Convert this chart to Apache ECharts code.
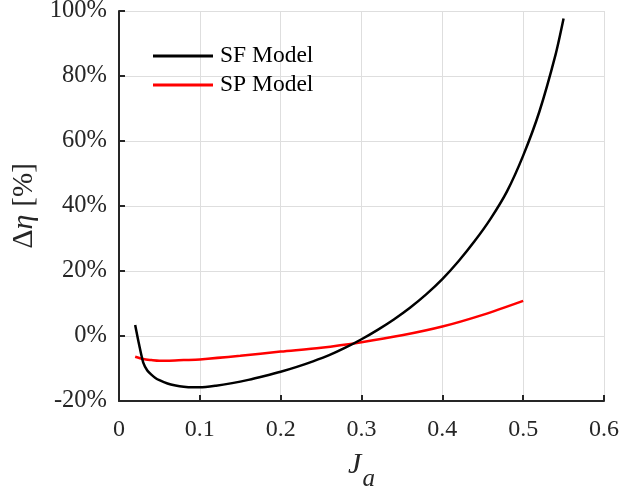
<!DOCTYPE html>
<html><head><meta charset="utf-8">
<script src="https://cdn.jsdelivr.net/npm/echarts@6/dist/echarts.min.js"></script>
<style>html,body{margin:0;padding:0;background:#fff}#c{width:621px;height:491px}</style>
</head><body><div id="c"></div>
<script>
var sfX = [0.02,0.025,0.03,0.035,0.04,0.045,0.05,0.06,0.07,0.08,0.09,0.1,0.12,0.14,0.16,0.18,0.2,0.22,0.24,0.26,0.28,0.3,0.32,0.34,0.36,0.38,0.4,0.42,0.44,0.46,0.48,0.5,0.52,0.54,0.55];
var sfY = [3.4,-2.8,-8.2,-10.6,-11.9,-12.9,-13.6,-14.6,-15.2,-15.6,-15.8,-15.8,-15.3,-14.5,-13.5,-12.3,-11,-9.5,-7.8,-5.9,-3.6,-1,1.9,5.1,8.7,12.8,17.5,23,29.2,36.2,44.5,55.5,69,86.5,97.7];
var spX = [0.02,0.03,0.04,0.05,0.06,0.08,0.1,0.15,0.2,0.25,0.3,0.35,0.4,0.45,0.5];
var spY = [-6.4,-7.1,-7.4,-7.6,-7.6,-7.4,-7.2,-6.1,-4.8,-3.6,-1.9,0.2,2.9,6.5,10.8];
var xTicks = [0,0.1,0.2,0.3,0.4,0.5,0.6];
var yTicks = [-20,0,20,40,60,80,100];
var seriesNames = ['SF Model','SP Model'];

function pairs(xs, ys){ return xs.map(function(x,i){return [x, ys[i]];}); }
var font = 'Liberation Serif, Times New Roman, serif';
var chart = echarts.init(document.getElementById('c'), null, {renderer:'canvas'});
chart.setOption({
  animation:false,
  backgroundColor:'#fff',
  grid:{left:119,right:17,top:11,bottom:90,containLabel:false,outerBoundsMode:'none'},
  legend:{
    orient:'vertical', left:148, top:39, itemGap:5,
    itemWidth:60, itemHeight:3, icon:'rect',
    textStyle:{fontFamily:font, fontSize:23.5, color:'#000', padding:[0,0,0,2]},
    data:seriesNames
  },
  xAxis:{
    type:'value', min:xTicks[0], max:xTicks[xTicks.length-1], interval:0.1,
    axisLine:{show:true, onZero:false, lineStyle:{color:'#262626', width:2}},
    axisTick:{show:true, inside:true, length:6, lineStyle:{color:'#262626', width:2}},
    axisLabel:{fontFamily:font, fontSize:24, color:'#262626', margin:17,
      formatter:function(v){return String(Math.round(v*10)/10);}},
    splitLine:{show:true, lineStyle:{color:'#dedede', width:1}},
    name:'{j|J}{a|a}', nameLocation:'middle', nameGap:49,
    nameTextStyle:{fontFamily:font, rich:{
      j:{fontFamily:font, fontStyle:'italic', fontSize:30, color:'#262626', verticalAlign:'top', lineHeight:30},
      a:{fontFamily:font, fontStyle:'italic', fontSize:25, color:'#262626', verticalAlign:'top', lineHeight:25, padding:[17,0,0,1]}
    }}
  },
  yAxis:{
    type:'value', min:yTicks[0], max:yTicks[yTicks.length-1], interval:20,
    axisLine:{show:true, onZero:false, lineStyle:{color:'#262626', width:2}},
    axisTick:{show:true, inside:true, length:6, lineStyle:{color:'#262626', width:2}},
    axisLabel:{fontFamily:font, fontSize:24.5, color:'#262626', margin:12, formatter:'{value}%'},
    splitLine:{show:true, lineStyle:{color:'#dedede', width:1}},
    name:'{d|Δ}{e|η}{p|[%]}', nameLocation:'middle', nameGap:80, nameRotate:90,
    nameTextStyle:{fontFamily:font, rich:{
      d:{fontFamily:font, fontSize:30, color:'#262626'},
      e:{fontFamily:font, fontStyle:'italic', fontSize:30, color:'#262626'},
      p:{fontFamily:font, fontSize:29, color:'#262626', padding:[0,0,0,8]}
    }}
  },
  series:[
    {name:seriesNames[0], type:'line', data:pairs(sfX,sfY), smooth:0.25, symbol:'none', z:3,
     lineStyle:{color:'#000', width:2.5}, itemStyle:{color:'#000'}},
    {name:seriesNames[1], type:'line', data:pairs(spX,spY), smooth:0.3, symbol:'none', z:2,
     lineStyle:{color:'#ff0000', width:2.5}, itemStyle:{color:'#ff0000'}}
  ]
});
</script></body></html>
